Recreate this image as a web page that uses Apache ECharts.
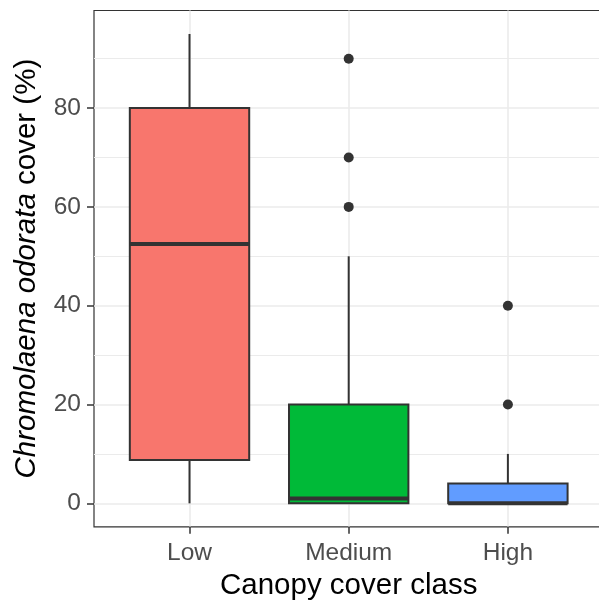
<!DOCTYPE html>
<html>
<head>
<meta charset="utf-8">
<script src="https://cdn.jsdelivr.net/npm/echarts@6/dist/echarts.min.js"></script>
<style>
html,body{margin:0;padding:0;background:#fff;}
#chart{width:599px;height:603px;}
</style>
</head>
<body>
<div id="chart"></div>
<script>
// ---- data ----
var categories = ['Low', 'Medium', 'High'];
var whiskerLow = [0, 0, 0];
var q1 = [8.75, 0, 0];
var medians = [52.5, 1, 0];
var q3 = [80, 20, 4];
var whiskerHigh = [95, 50, 10];
var outlierCategory = ['Medium', 'Medium', 'Medium', 'High', 'High'];
var outlierValue = [60, 70, 90, 20, 40];
var yTicks = [0, 20, 40, 60, 80];
var yMinorTicks = [10, 30, 50, 70, 90];

var fills = ['#F8766D', '#00BA38', '#619CFF'];
var FONT = '"Liberation Sans", Arial, sans-serif';

var boxData = categories.map(function (c, i) {
  return [i + 1, whiskerLow[i], q1[i], medians[i], q3[i], whiskerHigh[i]];
});
var outlierData = outlierCategory.map(function (c, i) {
  return [categories.indexOf(c) + 1, outlierValue[i]];
});
var catPositions = categories.map(function (c, i) { return i + 1; });

var chart = echarts.init(document.getElementById('chart'), null, {renderer: 'canvas'});
chart.setOption({
  animation: false,
  backgroundColor: '#ffffff',
  grid: {
    left: 94, top: 10.5, width: 509.4, height: 516.3,
    outerBoundsMode: 'none',
    show: true, borderColor: '#333333', borderWidth: 1.2, backgroundColor: 'transparent',
    containLabel: false
  },
  xAxis: {
    type: 'value', min: 0.4, max: 3.6,
    name: 'Canopy cover class', nameLocation: 'middle', nameGap: 43,
    nameTextStyle: {fontFamily: FONT, fontSize: 29.5, color: '#000000'},
    axisLine: {show: false, onZero: false},
    axisTick: {show: true, customValues: catPositions, length: 7, lineStyle: {color: '#333333', width: 1.5}},
    axisLabel: {
      customValues: catPositions, margin: 14, fontFamily: FONT, fontSize: 24.5, color: '#4D4D4D',
      formatter: function (v) { return categories[Math.round(v) - 1]; }
    },
    splitLine: {show: true, lineStyle: {color: '#EBEBEB', width: 1.6}}
  },
  yAxis: [{
    type: 'value', min: -4.75, max: 99.75,
    name: '{i|Chromolaena odorata} cover (%)', nameLocation: 'middle', nameGap: 52,
    nameTextStyle: {
      fontFamily: FONT, fontSize: 29.5, color: '#000000',
      rich: {i: {fontFamily: FONT, fontSize: 29.5, fontStyle: 'italic', color: '#000000'}}
    },
    axisLine: {show: false, onZero: false},
    axisTick: {show: true, customValues: yTicks, length: 7, lineStyle: {color: '#333333', width: 1.5}},
    axisLabel: {customValues: yTicks, margin: 13, fontFamily: FONT, fontSize: 24.5, color: '#4D4D4D'},
    splitLine: {show: true, lineStyle: {color: '#EBEBEB', width: 1.6}}
  }, {
    type: 'value', min: -4.75, max: 99.75, position: 'left',
    axisLine: {show: false, onZero: false},
    axisTick: {show: false, customValues: yMinorTicks},
    axisLabel: {show: false, customValues: yMinorTicks},
    splitLine: {show: true, lineStyle: {color: '#EBEBEB', width: 1.2}}
  }],
  series: [{
    type: 'custom',
    data: boxData,
    encode: {x: 0, y: [1, 2, 3, 4, 5]},
    renderItem: function (params, api) {
      var x = api.value(0);
      var pLo = api.coord([x, api.value(1)]);
      var pQ1 = api.coord([x, api.value(2)]);
      var pMed = api.coord([x, api.value(3)]);
      var pQ3 = api.coord([x, api.value(4)]);
      var pHi = api.coord([x, api.value(5)]);
      var w = api.size([0.75, 0])[0];
      var cx = pMed[0];
      var stroke = '#333333';
      return {
        type: 'group',
        children: [
          {type: 'line', shape: {x1: cx, y1: pLo[1], x2: cx, y2: pQ1[1]}, style: {stroke: stroke, lineWidth: 2}},
          {type: 'line', shape: {x1: cx, y1: pQ3[1], x2: cx, y2: pHi[1]}, style: {stroke: stroke, lineWidth: 2}},
          {type: 'rect', shape: {x: cx - w / 2, y: pQ3[1], width: w, height: pQ1[1] - pQ3[1]},
            style: {fill: fills[params.dataIndex], stroke: stroke, lineWidth: 2}},
          {type: 'line', shape: {x1: cx - w / 2, y1: pMed[1], x2: cx + w / 2, y2: pMed[1]},
            style: {stroke: stroke, lineWidth: 4}}
        ]
      };
    },
    z: 3
  }, {
    type: 'scatter',
    data: outlierData,
    symbol: 'circle',
    symbolSize: 10,
    itemStyle: {color: '#333333', opacity: 1},
    z: 4
  }]
});
</script>
</body>
</html>
